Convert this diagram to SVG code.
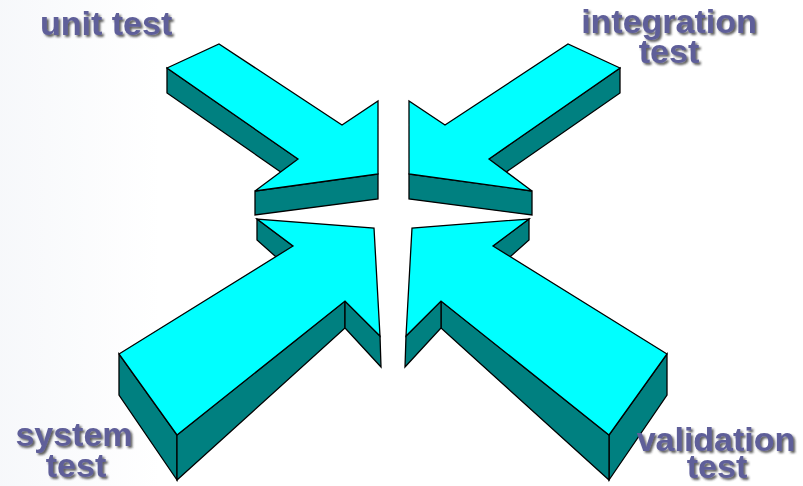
<svg xmlns="http://www.w3.org/2000/svg" width="803" height="486" viewBox="0 0 803 486">
  <defs>
    <filter id="shadow" x="-10%" y="-20%" width="130%" height="160%">
      <feDropShadow dx="2" dy="2" stdDeviation="0.8" flood-color="#2a2a2a" flood-opacity="0.75"/>
    </filter>
    <linearGradient id="bg" x1="0" y1="0" x2="1" y2="0">
      <stop offset="0" stop-color="#eef1f6"/>
      <stop offset="1" stop-color="#ffffff"/>
    </linearGradient>
    <style>
      .top { fill: #00ffff; stroke: #000; stroke-width: 1.3; stroke-linejoin: miter; }
      .side { fill: #008080; stroke: #000; stroke-width: 1.3; stroke-linejoin: miter; }
      .label { font-family: "Liberation Sans", Arial, sans-serif; font-weight: bold; font-size: 34px; fill: #5f5f99; filter: url(#shadow); }
    </style>
  </defs>
  <rect x="0" y="0" width="803" height="486" fill="#ffffff"/>
  <rect x="0" y="0" width="160" height="486" fill="url(#bg)" opacity="0.5"/>

  <g id="arrow-unit">
    <polygon class="side" points="167,68 298,159 298,184 167,93"/>
    <polygon class="side" points="255,191 378,174 378,199 255,215"/>
    <polygon class="top" points="167,68 219,44 342,125 378,101 378,174 255,191 298,159"/>
  </g>

  <g id="arrow-integration">
    <polygon class="side" points="620,68 489,159 489,184 620,93"/>
    <polygon class="side" points="532,191 409,174 409,199 532,215"/>
    <polygon class="top" points="620,68 568,44 445,125 409,101 409,174 532,191 489,159"/>
  </g>

  <g id="arrow-system">
    <polygon class="side" points="119,354 177,435 177,480 119,395"/>
    <polygon class="side" points="177,435 345,301 345,328 177,480"/>
    <polygon class="side" points="345,301 380,336 381,367 345,328"/>
    <polygon class="side" points="257,219 293,246 293,272 257,240"/>
    <polygon class="top" points="119,354 293,246 257,219 374,228 380,336 345,301 177,435"/>
  </g>

  <g id="arrow-validation">
    <polygon class="side" points="667,354 609,435 609,480 667,395"/>
    <polygon class="side" points="609,435 441,301 441,328 609,480"/>
    <polygon class="side" points="441,301 406,336 405,367 441,328"/>
    <polygon class="side" points="529,219 493,246 493,272 529,240"/>
    <polygon class="top" points="667,354 493,246 529,219 412,228 406,336 441,301 609,435"/>
  </g>

  <g id="label-unit">
    <text class="label" x="40" y="35">unit test</text>
  </g>
  <g id="label-integration">
    <text class="label" text-anchor="middle"><tspan x="669" y="33">integration</tspan><tspan x="669" y="63">test</tspan></text>
  </g>
  <g id="label-system">
    <text class="label" text-anchor="middle"><tspan x="74" y="446">system</tspan><tspan x="76" y="477">test</tspan></text>
  </g>
  <g id="label-validation">
    <text class="label" text-anchor="middle"><tspan x="716" y="451">validation</tspan><tspan x="717" y="478">test</tspan></text>
  </g>
</svg>
